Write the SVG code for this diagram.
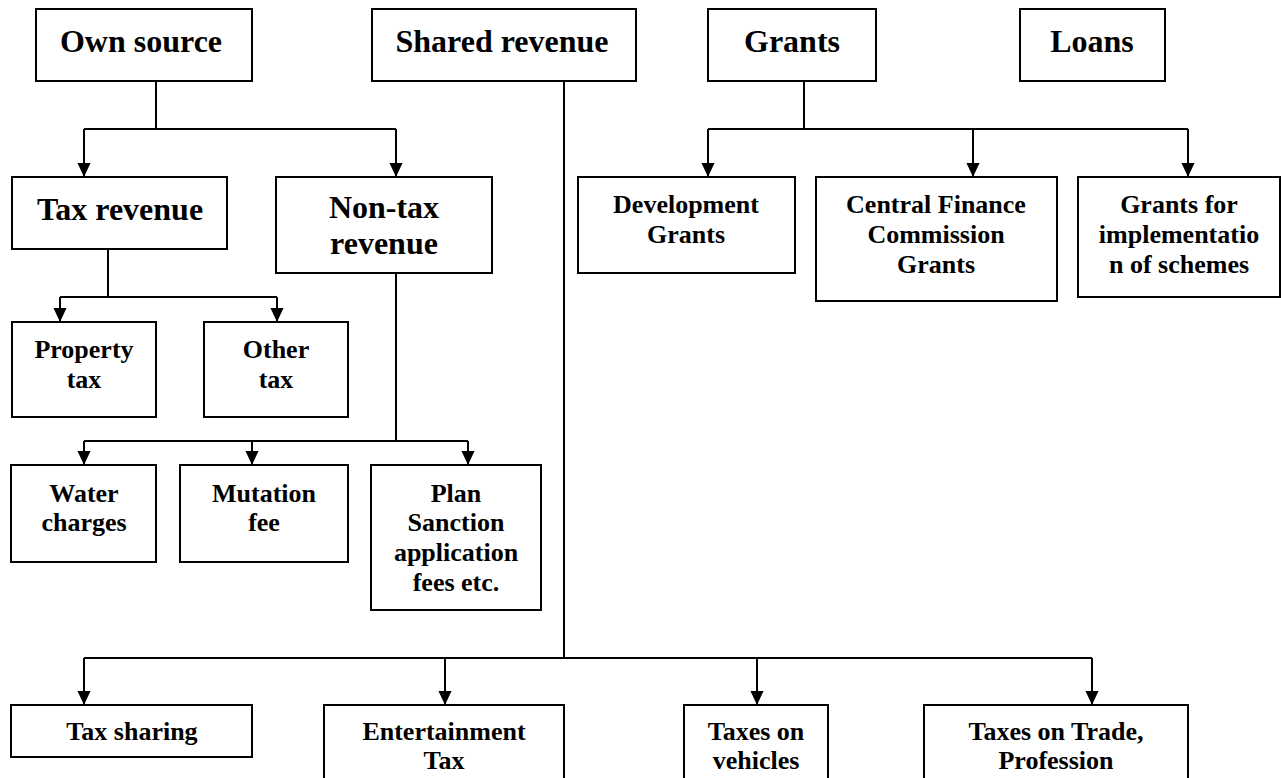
<svg xmlns="http://www.w3.org/2000/svg" width="1281" height="778" viewBox="0 0 1281 778">
<style>
.box{fill:#fff;stroke:#000;stroke-width:2}
.ln{fill:none;stroke:#000;stroke-width:2}
.ar{fill:none;stroke:#000;stroke-width:2;marker-end:url(#ah)}
text{font-family:"Liberation Serif","Times New Roman",serif;font-weight:bold;fill:#000;text-anchor:middle}
.t{font-size:32px}
.s{font-size:26px}
</style>
<defs>
<marker id="ah" markerUnits="userSpaceOnUse" markerWidth="14" markerHeight="15" refX="15" refY="7" orient="auto" viewBox="0 0 15 14">
<path d="M0,0 L15,7 L0,14 z" fill="#000"/>
</marker>
</defs>
<rect width="1281" height="778" fill="#fff"/>
<g id="connectors">
<path class="ln" d="M156,81 V129 M84,129 H396"/>
<path class="ar" d="M84,129 V177"/>
<path class="ar" d="M396,129 V177"/>
<path class="ln" d="M804,81 V129 M708,129 H1188"/>
<path class="ar" d="M708,129 V177"/>
<path class="ar" d="M973,129 V177"/>
<path class="ar" d="M1188,129 V177"/>
<path class="ln" d="M108,249 V297 M60,297 H277"/>
<path class="ar" d="M60,297 V322"/>
<path class="ar" d="M277,297 V322"/>
<path class="ln" d="M396,273 V441 M84,441 H468"/>
<path class="ar" d="M84,441 V465"/>
<path class="ar" d="M252,441 V465"/>
<path class="ar" d="M468,441 V465"/>
<path class="ln" d="M564,81 V658 M84,658 H1092"/>
<path class="ar" d="M84,658 V705"/>
<path class="ar" d="M445,658 V705"/>
<path class="ar" d="M757,658 V705"/>
<path class="ar" d="M1092,658 V705"/>
</g>
<g id="own-source"><rect class="box" x="36" y="9" width="216" height="72"/><text class="t" x="141" y="52">Own source</text></g>
<g id="shared-revenue"><rect class="box" x="372" y="9" width="264" height="72"/><text class="t" x="502" y="52">Shared revenue</text></g>
<g id="grants"><rect class="box" x="708" y="9" width="168" height="72"/><text class="t" x="792" y="52">Grants</text></g>
<g id="loans"><rect class="box" x="1020" y="9" width="145" height="72"/><text class="t" x="1092" y="52">Loans</text></g>
<g id="tax-revenue"><rect class="box" x="12" y="177" width="215" height="72"/><text class="t" x="120" y="220">Tax revenue</text></g>
<g id="non-tax-revenue"><rect class="box" x="276" y="177" width="216" height="96"/><text class="t" x="384" y="218">Non-tax<tspan x="384" dy="36">revenue</tspan></text></g>
<g id="development-grants"><rect class="box" x="578" y="177" width="217" height="96"/><text class="s" x="686" y="213">Development<tspan x="686" dy="30">Grants</tspan></text></g>
<g id="central-finance"><rect class="box" x="816" y="177" width="241" height="124"/><text class="s" x="936" y="213">Central Finance<tspan x="936" dy="30">Commission</tspan><tspan x="936" dy="30">Grants</tspan></text></g>
<g id="grants-implementation"><rect class="box" x="1078" y="177" width="202" height="120"/><text class="s" x="1179" y="213">Grants for<tspan x="1179" dy="30">implementatio</tspan><tspan x="1179" dy="30">n of schemes</tspan></text></g>
<g id="property-tax"><rect class="box" x="12" y="322" width="144" height="95"/><text class="s" x="84" y="358">Property<tspan x="84" dy="30">tax</tspan></text></g>
<g id="other-tax"><rect class="box" x="204" y="322" width="144" height="95"/><text class="s" x="276" y="358">Other<tspan x="276" dy="30">tax</tspan></text></g>
<g id="water-charges"><rect class="box" x="11" y="465" width="145" height="97"/><text class="s" x="84" y="502">Water<tspan x="84" dy="29">charges</tspan></text></g>
<g id="mutation-fee"><rect class="box" x="180" y="465" width="168" height="97"/><text class="s" x="264" y="502">Mutation<tspan x="264" dy="29">fee</tspan></text></g>
<g id="plan-sanction"><rect class="box" x="371" y="465" width="170" height="145"/><text class="s" x="456" y="502">Plan<tspan x="456" dy="29">Sanction</tspan><tspan x="456" dy="30">application</tspan><tspan x="456" dy="30">fees etc.</tspan></text></g>
<g id="tax-sharing"><rect class="box" x="11" y="705" width="241" height="52"/><text class="s" x="132" y="740">Tax sharing</text></g>
<g id="entertainment-tax"><rect class="box" x="324" y="705" width="240" height="90"/><text class="s" x="444" y="740">Entertainment<tspan x="444" dy="29">Tax</tspan></text></g>
<g id="taxes-vehicles"><rect class="box" x="684" y="705" width="144" height="90"/><text class="s" x="756" y="740">Taxes on<tspan x="756" dy="29">vehicles</tspan></text></g>
<g id="taxes-trade"><rect class="box" x="924" y="705" width="264" height="90"/><text class="s" x="1056" y="740">Taxes on Trade,<tspan x="1056" dy="29">Profession</tspan></text></g>
</svg>
